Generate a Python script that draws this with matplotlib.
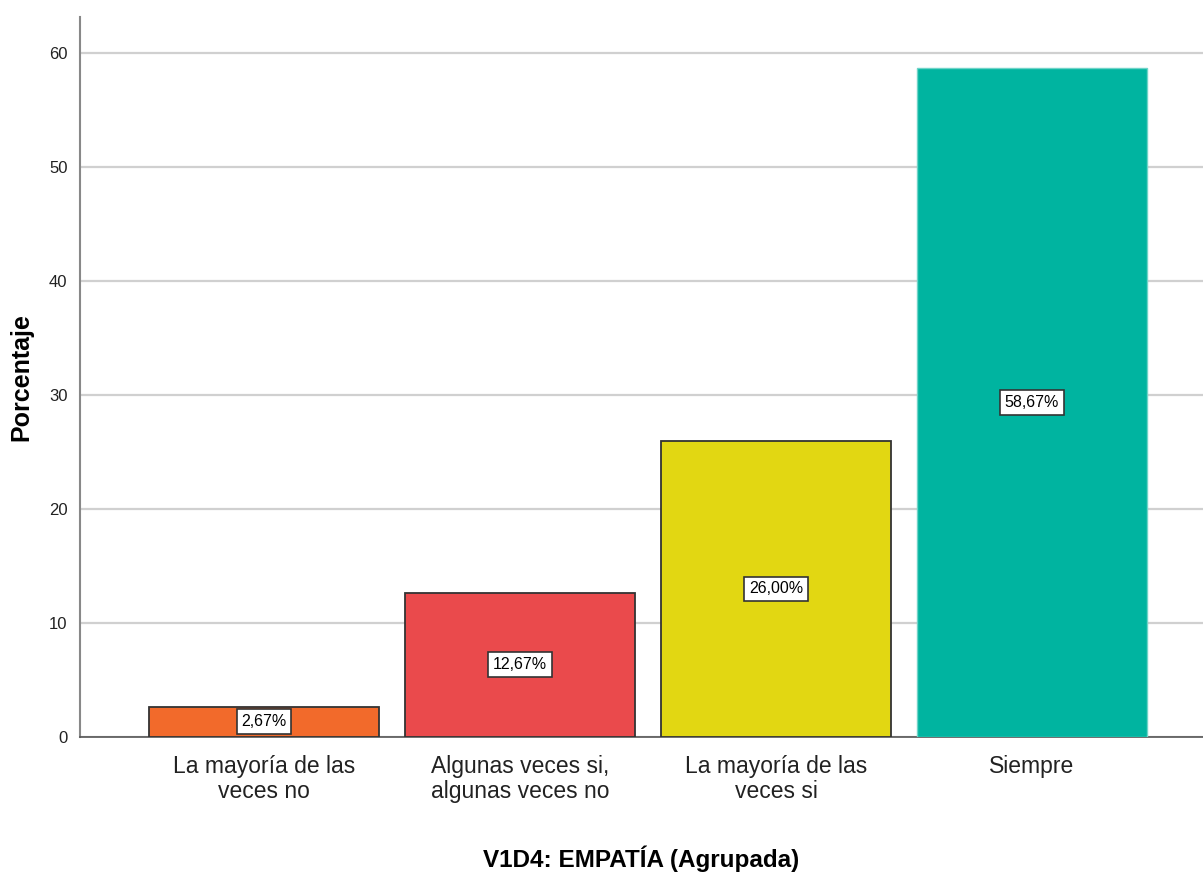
import matplotlib.pyplot as plt

# Data
categories = ['La mayoría de las\nveces no', 'Algunas veces si,\nalgunas veces no',
              'La mayoría de las\nveces si', 'Siempre']
percentages = [2.67, 12.67, 26.00, 58.67]
labels = ['2,67%', '12,67%', '26,00%', '58,67%']
colors = ['#F26A2B', '#EA4A4C', '#E2D712', '#00B4A0']

font = ['Liberation Sans', 'DejaVu Sans']

fig = plt.figure(figsize=(12.03, 8.73), dpi=100)
ax = fig.add_axes([0.0665, 0.1558, 0.9335, 0.8247])

x = range(len(categories))
bars = ax.bar(x, percentages, width=0.898, color=colors, zorder=3)
for b in bars[:3]:
    b.set_edgecolor('#333333')
    b.set_linewidth(1.3)
bars[3].set_edgecolor('#6fd4c8')
bars[3].set_linewidth(1.0)

for i, (v, t) in enumerate(zip(percentages, labels)):
    ax.text(i, v / 2, t, ha='center', va='center', fontsize=11.5, family=font,
            zorder=5, bbox=dict(boxstyle='square,pad=0.3', fc='white', ec='#333333', lw=1.2))

ax.set_xlim(-0.71875, 3.668)
ax.set_ylim(0, 63.16)
ax.set_yticks([0, 10, 20, 30, 40, 50, 60])
ax.yaxis.grid(True, color='#d0d0d0', linewidth=1.6, zorder=0)
ax.set_axisbelow(True)

ax.set_xticks(list(x))
ax.set_xticklabels(categories, fontsize=16.5, family=font, color='#222222', linespacing=1.1)
for t in ax.get_yticklabels():
    t.set_family(font)
    t.set_fontsize(12)
    t.set_color('#222222')
ax.tick_params(axis='both', length=0)
ax.tick_params(axis='x', pad=13)
ax.tick_params(axis='y', pad=9)

for s in ['top', 'right']:
    ax.spines[s].set_visible(False)
ax.spines['left'].set_color('#888888')
ax.spines['left'].set_linewidth(1.5)
ax.spines['bottom'].set_color('#555555')
ax.spines['bottom'].set_linewidth(1.2)

ax.set_ylabel('Porcentaje', fontsize=18, fontweight='bold', family=font, labelpad=11)
ax.set_xlabel('V1D4: EMPATÍA (Agrupada)', fontsize=17.5, fontweight='bold', family=font, labelpad=31)

fig.savefig('out.png', dpi=100)
